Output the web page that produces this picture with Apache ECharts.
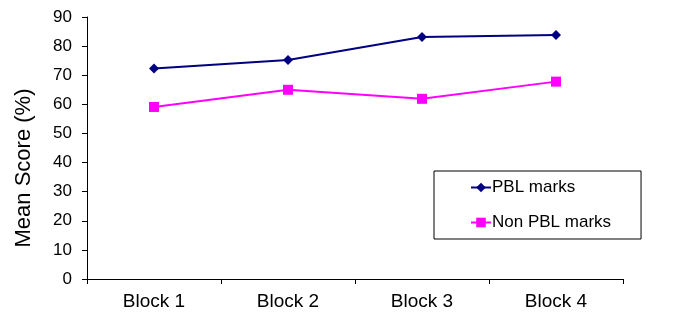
<!DOCTYPE html>
<html>
<head>
<meta charset="utf-8">
<script src="https://cdn.jsdelivr.net/npm/echarts@6/dist/echarts.min.js"></script>
<style>
  html, body { margin: 0; padding: 0; background: #fff; }
  #chart { width: 678px; height: 327px; }
</style>
</head>
<body>
<div id="chart"></div>
<script>
// data
var blocks = ['Block 1', 'Block 2', 'Block 3', 'Block 4'];
var pblMarks = [72.3, 75.2, 83.1, 83.8];
var nonPblMarks = [59.1, 65.0, 61.9, 67.8];

var myChart = echarts.init(document.getElementById('chart'));
var font = 'Liberation Sans, Arial, sans-serif';

var option = {
    backgroundColor: '#fff',
    animation: false,
    textStyle: { fontFamily: font },
    grid: { left: 87, right: 55, top: 17, bottom: 48 },
    legend: {
        orient: 'vertical',
        left: 434,
        top: 171,
        padding: [8, 30, 8, 36],
        itemWidth: 20,
        itemHeight: 12,
        itemGap: 18,
        borderColor: '#000',
        borderWidth: 1,
        textStyle: { fontSize: 17, color: '#000', fontFamily: font, padding: [0, 0, 0, -4] },
        data: ['PBL marks', 'Non PBL marks']
    },
    xAxis: {
        type: 'category',
        data: blocks,
        boundaryGap: true,
        axisLine: { lineStyle: { color: '#000', width: 1 } },
        axisTick: { show: true, interval: 0, length: 5, lineStyle: { color: '#000' } },
        axisLabel: { fontSize: 19, color: '#000', margin: 13, fontFamily: font }
    },
    yAxis: {
        type: 'value',
        min: 0,
        max: 90,
        interval: 10,
        name: 'Mean Score (%)',
        nameLocation: 'middle',
        nameGap: 52,
        // label sits a bit below the plot middle in the original
        nameTextStyle: { fontSize: 22, color: '#000', fontFamily: font, padding: [0, 40, 0, 0] },
        splitLine: { show: false },
        axisLine: { show: true, lineStyle: { color: '#000', width: 1 } },
        axisTick: { show: true, length: 5, lineStyle: { color: '#000' } },
        axisLabel: { fontSize: 17, color: '#000', margin: 15, fontFamily: font }
    },
    series: [
        {
            name: 'PBL marks',
            type: 'line',
            data: pblMarks,
            symbol: 'diamond',
            symbolSize: 10,
            itemStyle: { color: '#000080' },
            lineStyle: { color: '#000080', width: 2 }
        },
        {
            name: 'Non PBL marks',
            type: 'line',
            data: nonPblMarks,
            symbol: 'rect',
            symbolSize: 10,
            itemStyle: { color: '#ff00ff' },
            lineStyle: { color: '#ff00ff', width: 2 }
        }
    ]
};
myChart.setOption(option);
</script>
</body>
</html>
